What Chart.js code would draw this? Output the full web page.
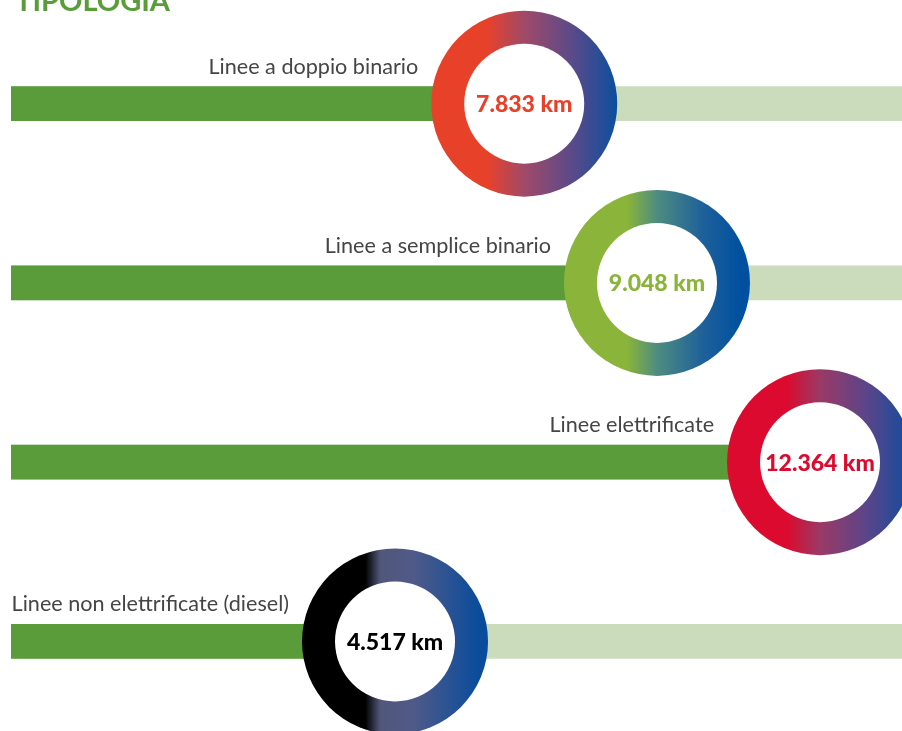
<!DOCTYPE html>
<html lang="it">
<head>
<meta charset="utf-8">
<title>Tipologia</title>
<script src="https://cdn.jsdelivr.net/npm/chart.js@4/dist/chart.umd.min.js"></script>
<style>
  html, body { margin: 0; padding: 0; background: #fff; overflow: hidden; }
  #wrap { position: relative; width: 902px; height: 731px; }
</style>
</head>
<body>
<div id="wrap"><canvas id="chart" width="902" height="731"></canvas></div>
<script>
// data
const categories = [
    'Linee a doppio binario',
    'Linee a semplice binario',
    'Linee elettrificate',
    'Linee non elettrificate (diesel)'
];
const kmValues = [7833, 9048, 12364, 4517];
// how far the dark green bar runs along the track (percent)
const fillPct = [57.6, 72.5, 90.8, 43.1];
const trackPct = [100, 100, 100, 100];

// ring colours: left colour, then gradient towards blue
const ringStops = [
    [[0, '#e8412a'], [0.3, '#e8412a'], [0.5, '#a04a68'], [0.75, '#5c4a88'], [1, '#0b4f9e']],
    [[0, '#8ab43a'], [0.34, '#8ab43a'], [0.5, '#4e8c80'], [0.75, '#1e609a'], [0.95, '#0050a0']],
    [[0, '#dc0a2e'], [0.32, '#dc0a2e'], [0.5, '#9a3a65'], [0.75, '#5a458a'], [1, '#0d4d9e']],
    [[0, '#000000'], [0.34, '#000000'], [0.42, '#52577a'], [0.6, '#4f5a88'], [0.95, '#0a4c9c']]
];
const textColors = ['#e8412a', '#8ab43a', '#dc0a2e', '#000000'];

const OUTER_R = 93;
const INNER_R = 60;

function formatKm(v) {
    return String(v).replace(/\B(?=(\d{3})+(?!\d))/g, '.');
}

// Draws the rings, the values and the labels on top of the bars
const ringPlugin = {
    id: 'rings',
    afterDatasetsDraw(chart) {
        const ctx = chart.ctx;
        const xs = chart.scales.x;
        const ys = chart.scales.y;

        ctx.save();
        // title, mostly cut off at the top
        ctx.fillStyle = '#5b9c3a';
        ctx.font = 'bold 29px Lato';
        ctx.textAlign = 'left';
        ctx.textBaseline = 'alphabetic';
        ctx.fillText('TIPOLOGIA', 15, 11);

        categories.forEach((label, i) => {
            const cx = xs.getPixelForValue(fillPct[i]);
            const cy = ys.getPixelForValue(i);

            const grad = ctx.createLinearGradient(cx - OUTER_R, 0, cx + OUTER_R, 0);
            ringStops[i].forEach(s => grad.addColorStop(s[0], s[1]));
            ctx.beginPath();
            ctx.arc(cx, cy, OUTER_R, 0, Math.PI * 2);
            ctx.fillStyle = grad;
            ctx.fill();

            ctx.beginPath();
            ctx.arc(cx, cy, INNER_R, 0, Math.PI * 2);
            ctx.fillStyle = '#ffffff';
            ctx.fill();

            ctx.fillStyle = textColors[i];
            ctx.font = '900 23px Lato';
            ctx.textAlign = 'center';
            ctx.textBaseline = 'middle';
            ctx.fillText(formatKm(kmValues[i]) + ' km', cx, cy + 1);

            ctx.fillStyle = '#454545';
            ctx.font = '21.6px Lato';
            ctx.textAlign = 'right';
            ctx.textBaseline = 'alphabetic';
            ctx.fillText(label, cx - OUTER_R - 13, cy - 30);
        });
        ctx.restore();
    }
};

const chart = new Chart(document.getElementById('chart').getContext('2d'), {
    type: 'bar',
    data: {
        labels: categories,
        datasets: [
            {
                label: 'km',
                data: fillPct,
                backgroundColor: '#5b9c3a',
                borderWidth: 0,
                barThickness: 34,
                order: 1
            },
            {
                label: 'track',
                data: trackPct,
                backgroundColor: '#cbdcbc',
                borderWidth: 0,
                barThickness: 34,
                order: 2
            }
        ]
    },
    options: {
        indexAxis: 'y',
        responsive: false,
        animation: false,
        layout: { padding: { left: 11, right: 0, top: 14, bottom: 0 } },
        datasets: { bar: { grouped: false } },
        scales: {
            x: { display: false, min: 0, max: 100 },
            y: { display: false }
        },
        plugins: {
            legend: { display: false },
            tooltip: { enabled: false }
        }
    },
    plugins: [ringPlugin]
});
</script>
</body>
</html>
